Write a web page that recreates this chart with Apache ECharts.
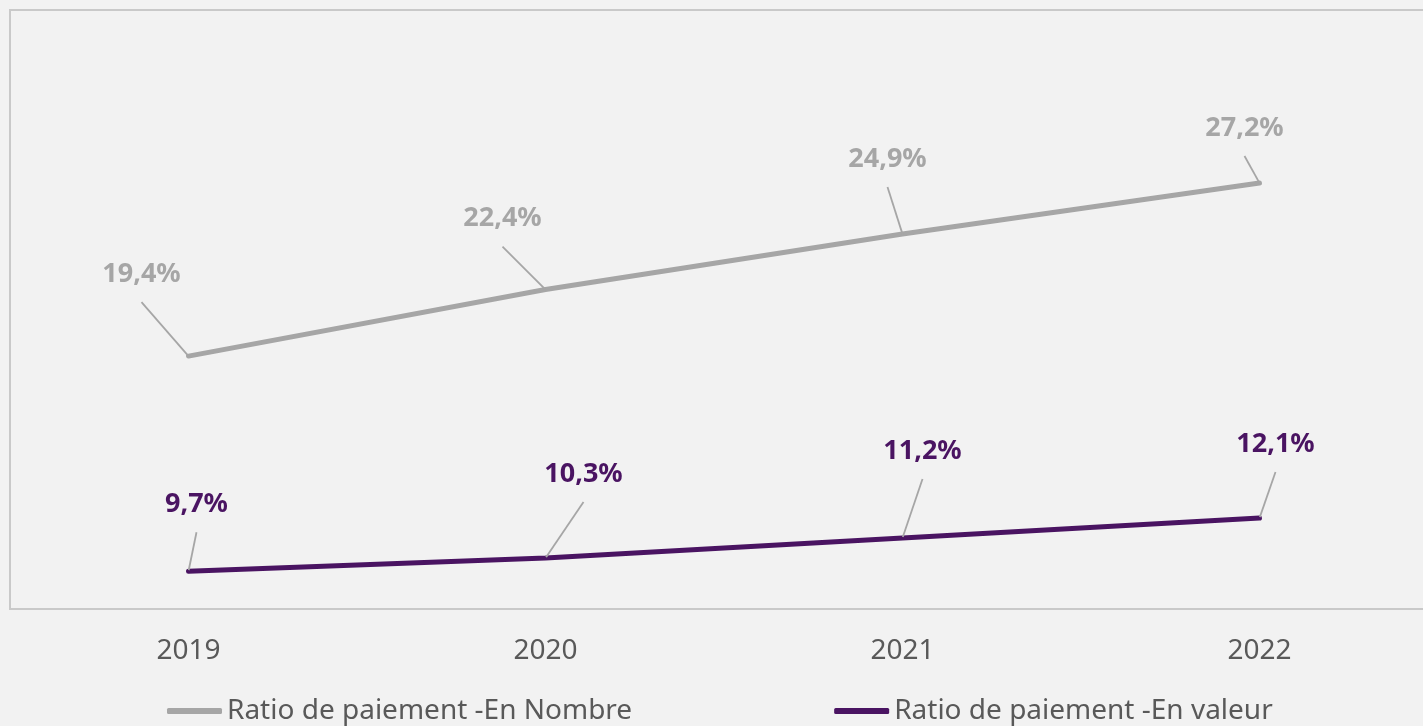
<!DOCTYPE html>
<html>
<head>
<meta charset="utf-8">
<script src="https://cdn.jsdelivr.net/npm/echarts@6/dist/echarts.min.js"></script>
<style>
  html, body { margin: 0; padding: 0; background: #f2f2f2; overflow: hidden; }
  #chart { width: 1440px; height: 726px; }
</style>
</head>
<body>
<div id="chart"></div>
<script>
var years = ['2019', '2020', '2021', '2022'];
var ratioNombre = [19.4, 22.4, 24.9, 27.2];
var ratioValeur = [9.7, 10.3, 11.2, 12.1];

// label offsets from their point (px)
var offNombre = [[-47, -75], [-43, -64], [-15, -68], [-15, -48]];
var offValeur = [[8, -60], [38, -77], [20, -80], [16, -67]];

var grey = '#a6a6a6';
var purple = '#4a1462';

var myChart = echarts.init(document.getElementById('chart'));

function pct(p) {
  return '{v|' + p.value.toFixed(1).replace('.', ',') + '%}\n{g| }';
}

function labelStyle(color) {
  return {
    show: true, position: 'inside',
    formatter: pct,
    rich: {
      v: { fontFamily: 'Noto Sans', fontWeight: 'bold', fontSize: 27, lineHeight: 32, color: color },
      g: { fontSize: 10, lineHeight: 14 }
    }
  };
}

var option = {
  backgroundColor: '#f2f2f2',
  animation: false,
  grid: {
    left: 10, top: 10, right: 2, height: 599,
    show: true,
    borderColor: '#c9c9c9',
    borderWidth: 2,
    backgroundColor: '#f2f2f2'
  },
  legend: {
    left: 162, top: 692,
    itemWidth: 55, itemHeight: 6,
    itemGap: 202,
    icon: 'roundRect',
    textStyle: { fontFamily: 'Noto Sans', fontSize: 28, color: '#595959' },
    data: ['Ratio de paiement -En Nombre', 'Ratio de paiement -En valeur']
  },
  xAxis: {
    type: 'category',
    data: years,
    boundaryGap: true,
    axisLine: { show: false },
    axisTick: { show: false },
    axisLabel: { fontFamily: 'Noto Sans', fontSize: 28, color: '#595959', margin: 28 }
  },
  yAxis: {
    type: 'value',
    min: 8, max: 35,
    show: false,
    splitLine: { show: false }
  },
  series: [
    {
      name: 'Ratio de paiement -En Nombre',
      type: 'line',
      data: ratioNombre,
      color: grey,
      symbol: 'circle',
      symbolSize: 2,
      showSymbol: true,
      lineStyle: { width: 5, color: grey, cap: 'round' },
      label: labelStyle(grey),
      labelLine: { show: true, lineStyle: { color: grey, width: 1.8 } },
      labelLayout: function (p) {
        return { dx: offNombre[p.dataIndex][0], dy: offNombre[p.dataIndex][1] };
      }
    },
    {
      name: 'Ratio de paiement -En valeur',
      type: 'line',
      data: ratioValeur,
      color: purple,
      symbol: 'circle',
      symbolSize: 2,
      showSymbol: true,
      lineStyle: { width: 5, color: purple, cap: 'round' },
      label: labelStyle(purple),
      labelLine: { show: true, lineStyle: { color: grey, width: 1.8 } },
      labelLayout: function (p) {
        return { dx: offValeur[p.dataIndex][0], dy: offValeur[p.dataIndex][1] };
      }
    }
  ]
};

myChart.setOption(option);
</script>
</body>
</html>
